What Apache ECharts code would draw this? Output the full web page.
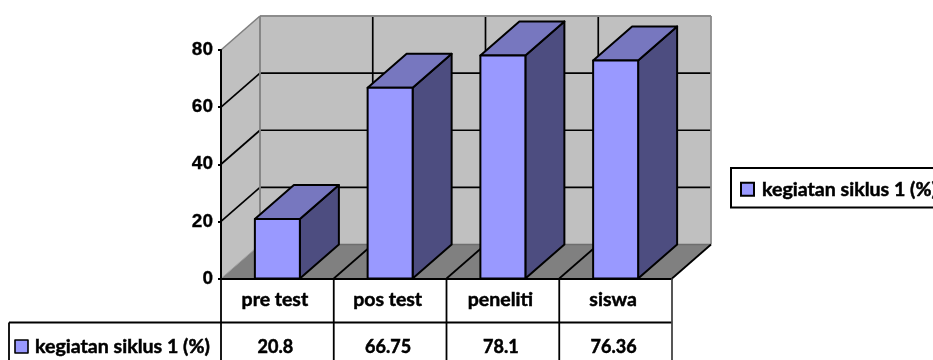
<!DOCTYPE html>
<html>
<head>
<meta charset="utf-8">
<style>html,body{margin:0;padding:0;background:#fff}#c{width:933px;height:360px}</style>
<script src="https://cdn.jsdelivr.net/npm/echarts@6/dist/echarts.min.js"></script>
</head>
<body>
<div id="c"></div>
<script>
// Survey results shown as 3D-look columns above a small data table
const categories = ['pre test', 'pos test', 'peneliti', 'siswa'];
const values = [20.8, 66.75, 78.1, 76.36];
const valueTicks = [0, 20, 40, 60, 80];
const seriesName = 'kegiatan siklus 1 (%)';

// Oblique projection offset of the box depth
const DX = 39, DY = -34;
const BAR_W = 45;
const LABEL_FONT = 'Lato';
const TABLE_Y = [278.5, 322.5, 361];
const TABLE_LEFT = 9;

const chart = echarts.init(document.getElementById('c'), null, {renderer: 'canvas'});

function poly(points, fill, stroke, width) {
  return {type: 'polygon', shape: {points},
    style: {fill: fill, stroke: stroke || null, lineWidth: width || 0, lineJoin: 'round'}};
}
function seg(a, b, stroke, width) {
  return {type: 'line', shape: {x1: a[0], y1: a[1], x2: b[0], y2: b[1]},
    style: {stroke, lineWidth: width, lineCap: 'butt'}};
}
function back(p) { return [p[0] + DX, p[1] + DY]; }

// Walls, floor and gridlines of the box, all placed from the axis scales
function renderBox(params, api) {
  const band = api.size([1, 0])[0];
  const n = categories.length;
  const y0 = api.coord([0, 0])[1];
  const yTop = api.coord([0, valueTicks[valueTicks.length - 1]])[1];
  const xL = api.coord([0, 0])[0] - band / 2;
  const xR = xL + band * n;
  const els = [];
  const fl = [xL, y0], fr = [xR, y0], tl = [xL, yTop], tr = [xR, yTop];
  els.push(poly([tl, back(tl), back(fl), fl], '#c0c0c0'));
  els.push(poly([back(tl), back(tr), back(fr), back(fl)], '#c0c0c0'));
  els.push(poly([fl, fr, back(fr), back(fl)], '#808080'));
  valueTicks.slice(1, -1).forEach(v => {
    const y = api.coord([0, v])[1];
    els.push(seg([xL, y], back([xL, y]), '#000', 1.7));
    els.push(seg(back([xL, y]), back([xR, y]), '#000', 1.7));
  });
  for (let i = 1; i < n; i++) {
    const x = xL + band * i;
    els.push(seg(back([x, yTop]), back([x, y0]), '#000', 1.7));
    els.push(seg([x, y0], back([x, y0]), '#000', 1.7));
  }
  els.push(seg(tl, back(tl), '#808080', 1.6));
  els.push(seg(back(tl), back(tr), '#8c8c8c', 1.8));
  els.push(seg(back(tr), back(fr), '#8c8c8c', 1.8));
  els.push(seg(back(tl), back(fl), '#808080', 1.8));
  els.push(seg(back(fl), back(fr), '#6e6e6e', 1.6));
  els.push(seg(fl, back(fl), '#a0a0a0', 1));
  els.push(seg(fr, back(fr), '#000', 1.8));
  return {type: 'group', children: els};
}

// One column: front, top and side faces
function renderColumn(params, api) {
  const p = api.coord([api.value(0), api.value(1)]);
  const base = api.coord([api.value(0), 0]);
  const x0 = p[0] - BAR_W / 2, x1 = x0 + BAR_W;
  const ft = p[1], fb = base[1];
  const a = [x0, ft], b = [x1, ft], c = [x1, fb], d = [x0, fb];
  const lw = 2;
  return {type: 'group', children: [
    poly([b, back(b), back(c), c], '#4d4d80', '#000', lw),
    poly([a, back(a), back(b), b], '#7777bf', '#000', lw),
    poly([a, b, c, d], '#9999ff', '#000', lw)
  ]};
}

// Data table below the plot: rules, row header and the value row
function renderTable(params, api) {
  const band = api.size([1, 0])[0];
  const n = categories.length;
  const xL = api.coord([0, 0])[0] - band / 2;
  const els = [];
  els.push(seg([TABLE_LEFT, TABLE_Y[1]], [xL + band * n, TABLE_Y[1]], '#000', 1.8));
  els.push(seg([TABLE_LEFT, TABLE_Y[1]], [TABLE_LEFT, TABLE_Y[2]], '#000', 1.8));
  for (let i = 0; i <= n; i++) {
    const x = xL + band * i;
    els.push(seg([x, TABLE_Y[0]], [x, TABLE_Y[2]], i === n ? '#444' : '#000', 1.8));
  }
  values.forEach((v, i) => {
    els.push({type: 'text', style: {
      text: String(v), x: xL + band * (i + 0.5) - 2, y: 347, align: 'center', verticalAlign: 'middle',
      font: 'bold 18px ' + LABEL_FONT, fill: '#000', stroke: '#000', lineWidth: 0.5}});
  });
  els.push(poly([[15, 340], [28, 340], [28, 353], [15, 353]], '#9999ff', '#000', 1.6));
  els.push({type: 'text', style: {
    text: seriesName, x: 35, y: 347, align: 'left', verticalAlign: 'middle',
    font: 'bold 19.6px ' + LABEL_FONT, fill: '#000', stroke: '#000', lineWidth: 0.5}});
  return {type: 'group', children: els};
}

chart.setOption({
  animation: false,
  backgroundColor: '#fff',
  grid: {left: 221, top: 50, width: 451, height: 228.5, containLabel: false},
  xAxis: {
    type: 'category', data: categories, boundaryGap: true,
    axisLine: {show: true, lineStyle: {color: '#000', width: 2}},
    axisTick: {show: false},
    axisLabel: {margin: 11, padding: [0, 5, 0, 0], fontFamily: LABEL_FONT, fontWeight: 'bold', fontSize: 19.5,
      color: '#000', textBorderColor: '#000', textBorderWidth: 0.5, interval: 0}
  },
  yAxis: {
    type: 'value', min: 0, max: 80, interval: 20,
    splitLine: {show: false},
    axisLine: {show: true, lineStyle: {color: '#000', width: 2}},
    axisTick: {show: true, length: 3, lineStyle: {color: '#000', width: 2}},
    axisLabel: {margin: 8, fontFamily: 'Liberation Sans', fontWeight: 'bold', fontSize: 19, color: '#000',
      textBorderColor: '#000', textBorderWidth: 0.3}
  },
  legend: {
    show: true, left: 731, top: 168, orient: 'vertical',
    data: [{name: seriesName, icon: 'rect'}],
    padding: [11, 40, 8, 9], itemWidth: 13, itemHeight: 13, itemGap: 0,
    borderColor: '#000', borderWidth: 2, backgroundColor: '#fff',
    textStyle: {fontFamily: LABEL_FONT, fontWeight: 'bold', fontSize: 19.6, color: '#000',
      textBorderColor: '#000', textBorderWidth: 0.5, padding: [0, 0, 0, 3]},
    selectedMode: false
  },
  series: [
    {type: 'custom', name: 'box', z: 0, silent: true, data: [0], clip: false,
     encode: {x: 0, y: 1}, renderItem: renderBox},
    {type: 'custom', name: seriesName, z: 2, clip: false,
     itemStyle: {color: '#9999ff', borderColor: '#000', borderWidth: 1.5},
     data: values.map((v, i) => [i, v]), encode: {x: 0, y: 1}, renderItem: renderColumn},
    {type: 'custom', name: 'table', z: 1, silent: true, data: [0], clip: false,
     encode: {x: 0, y: 1}, renderItem: renderTable}
  ]
});
</script>
</body>
</html>
